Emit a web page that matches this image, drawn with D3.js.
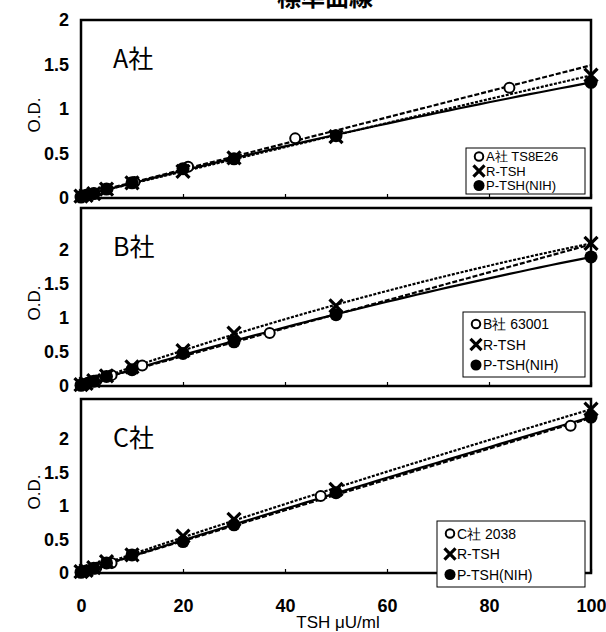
<!DOCTYPE html>
<html>
<head>
<meta charset="utf-8">
<script src="https://cdn.jsdelivr.net/npm/d3@7"></script>
<style>
  body { margin: 0; background: #fff; }
  svg text { font-family: "Liberation Sans", Arial, sans-serif; }
</style>
</head>
<body>
<div id="chart"></div>
<script>
// TSH concentrations used for the R-TSH and P-TSH(NIH) references
const concentrations = [0, 1, 2.5, 5, 10, 20, 30, 50, 100];

// panel A
const stdNameA = "A社 TS8E26";
const stdXA = [0, 2.6, 5.2, 10.5, 21, 42, 84];
const stdYA = [0.02, 0.05, 0.1, 0.18, 0.35, 0.67, 1.24];
const rTshA = [0.02, 0.03, 0.05, 0.1, 0.17, 0.3, 0.45, 0.69, 1.38];
const pTshA = [0.01, 0.03, 0.05, 0.1, 0.17, 0.33, 0.44, 0.7, 1.3];

// panel B
const stdNameB = "B社 63001";
const stdXB = [0, 1.5, 3, 6, 12, 37];
const stdYB = [0.02, 0.05, 0.08, 0.16, 0.3, 0.78];
const rTshB = [0.02, 0.04, 0.08, 0.15, 0.28, 0.52, 0.78, 1.18, 2.1];
const pTshB = [0.01, 0.03, 0.07, 0.14, 0.24, 0.48, 0.65, 1.05, 1.9];

// panel C
const stdNameC = "C社 2038";
const stdXC = [0, 1.5, 3, 6, 47, 96];
const stdYC = [0.02, 0.04, 0.08, 0.15, 1.15, 2.2];
const rTshC = [0.02, 0.04, 0.08, 0.17, 0.27, 0.55, 0.8, 1.25, 2.45];
const pTshC = [0.01, 0.03, 0.07, 0.15, 0.27, 0.47, 0.72, 1.2, 2.33];

const panelNames = ["A社", "B社", "C社"];
const xTicks = [0, 20, 40, 60, 80, 100];
const yTicks = [0, 0.5, 1, 1.5, 2];

const width = 606, height = 632;

const svg = d3.select("#chart").append("svg")
    .attr("width", width)
    .attr("height", height);

// title, mostly cut off at the top edge in the scan
svg.append("text")
    .attr("x", 325).attr("y", 6)
    .attr("text-anchor", "middle")
    .style("font-family", "'Noto Sans CJK JP', sans-serif")
    .style("font-weight", "bold")
    .style("font-size", "24px")
    .text("標準曲線");

const x = d3.scaleLinear().domain([0, 100]).range([81, 591]);

// layout of the three stacked panels
const panels = [
    { name: panelNames[0], top: 20, bottom: 198, max: 2, std: stdNameA, sx: stdXA, sy: stdYA, r: rTshA, p: pTshA,
      legend: { x: 466, y: 148, w: 119, h: 46, step: 14.5 } },
    { name: panelNames[1], top: 208, bottom: 386, max: 2.62, std: stdNameB, sx: stdXB, sy: stdYB, r: rTshB, p: pTshB,
      legend: { x: 463, y: 312, w: 122, h: 65, step: 20.5 } },
    { name: panelNames[2], top: 399, bottom: 573, max: 2.6, std: stdNameC, sx: stdXC, sy: stdYC, r: rTshC, p: pTshC,
      legend: { x: 437, y: 521, w: 148, h: 66, step: 20.5 } }
];

// least squares polynomial fit, drawn like a spreadsheet trendline
function polyFit(xs, ys, order) {
    const n = order + 1;
    const m = d3.range(n).map(i => d3.range(n + 1).map(j => {
        if (j < n) return d3.sum(xs, xv => Math.pow(xv, i + j));
        return d3.sum(xs, (xv, k) => ys[k] * Math.pow(xv, i));
    }));
    for (let i = 0; i < n; i++) {
        for (let j = i + 1; j < n; j++) {
            const f = m[j][i] / m[i][i];
            for (let k = i; k <= n; k++) m[j][k] -= f * m[i][k];
        }
    }
    const c = new Array(n).fill(0);
    for (let i = n - 1; i >= 0; i--) {
        let v = m[i][n];
        for (let k = i + 1; k < n; k++) v -= m[i][k] * c[k];
        c[i] = v / m[i][i];
    }
    return xv => d3.sum(c, (ck, k) => ck * Math.pow(xv, k));
}

function drawMarker(g, type, cx, cy, s) {
    if (type === "open") {
        g.append("circle").attr("cx", cx).attr("cy", cy).attr("r", 5 * s)
            .attr("fill", "#fff").attr("stroke", "#000").attr("stroke-width", 2);
    } else if (type === "filled") {
        g.append("circle").attr("cx", cx).attr("cy", cy).attr("r", 6.5 * s).attr("fill", "#000");
    } else {
        const d = 6.5 * s;
        g.append("path")
            .attr("d", `M${cx - d},${cy - d}L${cx + d},${cy + d}M${cx - d},${cy + d}L${cx + d},${cy - d}`)
            .attr("stroke", "#000").attr("stroke-width", 3.2);
    }
}

panels.forEach((pn, idx) => {
    const y = d3.scaleLinear().domain([0, pn.max]).range([pn.bottom, pn.top]);
    const g = svg.append("g");
    const plot = g.append("g");

    const series = [
        { xs: pn.sx, ys: pn.sy, type: "open", dash: "5,2", order: 1 },
        { xs: concentrations, ys: pn.r, type: "cross", dash: "3,1.5", order: 2 },
        { xs: concentrations, ys: pn.p, type: "filled", dash: null, order: 2 }
    ];

    const line = d3.line().x(d => x(d[0])).y(d => y(d[1]));
    series.forEach(s => {
        const f = polyFit(s.xs, s.ys, s.order);
        const pts = d3.range(0, 101, 2).map(v => [v, f(v)]);
        plot.append("path")
            .attr("d", line(pts))
            .attr("fill", "none")
            .attr("stroke", "#000")
            .attr("stroke-width", 2.2)
            .attr("stroke-dasharray", s.dash);
    });
    series.forEach(s => {
        s.xs.forEach((xv, i) => drawMarker(plot, s.type, x(xv), y(s.ys[i]), 1));
    });

    // frame
    g.append("rect")
        .attr("x", x(0)).attr("y", pn.top)
        .attr("width", x(100) - x(0)).attr("height", pn.bottom - pn.top)
        .attr("fill", "none").attr("stroke", "#000").attr("stroke-width", 2.5);

    // y axis
    const yAxis = g.append("g")
        .attr("transform", `translate(${x(0)},0)`)
        .call(d3.axisLeft(y).tickValues(yTicks).tickSize(0).tickPadding(12).tickFormat(d3.format("")));
    yAxis.select(".domain").remove();
    yAxis.selectAll("text").style("font-size", "18px").style("font-weight", "bold");

    // x axis, small inward ticks on every panel, labels only on the last
    const last = idx === panels.length - 1;
    const xAxis = g.append("g")
        .attr("transform", `translate(0,${pn.bottom})`)
        .call(d3.axisBottom(x).tickValues(xTicks).tickSizeInner(-4).tickSizeOuter(0)
            .tickPadding(last ? 26 : 0).tickFormat(last ? d3.format("") : ""));
    xAxis.select(".domain").remove();
    xAxis.selectAll("line").attr("stroke-width", 1.2);
    xAxis.selectAll("text").style("font-size", "18px").style("font-weight", "bold");

    // y label
    g.append("text")
        .attr("transform", `translate(40,${(pn.top + pn.bottom) / 2 + 6}) rotate(-90)`)
        .attr("text-anchor", "middle")
        .style("font-size", "17px")
        .text("O.D.");

    // panel name
    g.append("text")
        .attr("x", 113).attr("y", pn.top + 48)
        .style("font-family", "'Noto Sans CJK JP', sans-serif")
        .style("font-size", "25px")
        .text(pn.name);

    // legend
    const lg = pn.legend;
    const leg = g.append("g");
    leg.append("rect")
        .attr("x", lg.x).attr("y", lg.y).attr("width", lg.w).attr("height", lg.h)
        .attr("fill", "#fff").attr("stroke", "#000").attr("stroke-width", 1);
    const labels = [pn.std, "R-TSH", "P-TSH(NIH)"];
    const types = ["open", "cross", "filled"];
    const fs = idx === 0 ? 13 : 14;
    const y0 = lg.y + (lg.h - lg.step * 2) / 2;
    labels.forEach((t, i) => {
        const cy = y0 + i * lg.step;
        drawMarker(leg, types[i], lg.x + 13, cy, 0.85);
        leg.append("text")
            .attr("x", lg.x + 20).attr("y", cy + fs * 0.36)
            .style("font-size", fs + "px")
            .text(t);
    });
});

// x axis title
svg.append("text")
    .attr("x", 338).attr("y", 628)
    .attr("text-anchor", "middle")
    .style("font-size", "17px")
    .text("TSH  μU/ml");
</script>
</body>
</html>
